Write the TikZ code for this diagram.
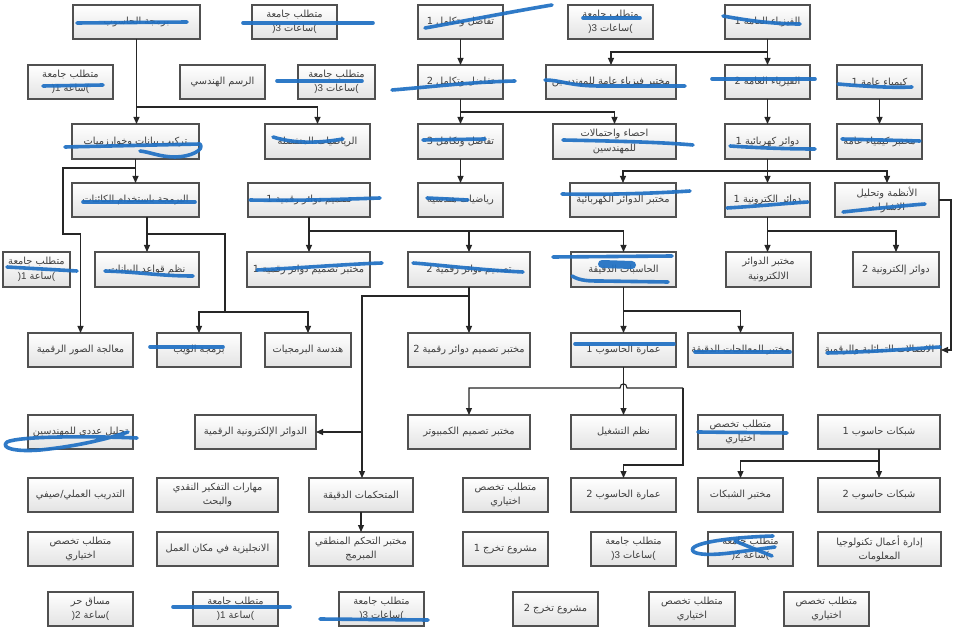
\documentclass[tikz,border=0pt]{standalone}
\usepackage{fontspec}
\setmainfont[Script=Arabic]{DejaVu Sans}
\newfontfamily\latfont[Script=Latin]{Liberation Sans}
\TeXXeTstate=1
\usetikzlibrary{arrows.meta}

\definecolor{boxline}{RGB}{80,80,80}
\definecolor{boxtext}{RGB}{62,62,62}
\definecolor{pen}{RGB}{32,112,195}

% right-to-left run
\newcommand\ar[1]{\beginR #1\endR}
% credit-hours line, e.g. )3 ساعات(
\newcommand\hrsline[2]{\hbox{\latfont )}\hbox{\latfont #1}\hbox{ }\hbox{#2}\hbox{\latfont (}}
% box given by its left, top, right and bottom edges
\newcommand\bx[6]{\node[course, minimum width={#4-#2}, minimum height={#5-#3}] (#1) at ({(#2+#4)/2},{(#3+#5)/2}) {#6};}

\tikzset{
  course/.style={draw=boxline, line width=1.1pt, top color=white, bottom color=black!11,
    inner sep=0pt, outer sep=0pt, align=center, text=boxtext,
    font=\fontsize{9.8}{14.5}\selectfont},
  conn/.style={draw=black!85, line width=1.1pt, -{Triangle[length=7pt,width=6pt]}},
  penstroke/.style={draw=pen, line width=3.6pt, line cap=round, line join=round, opacity=0.93}
}

\begin{document}
\begin{tikzpicture}[x=1pt,y=-1pt]
\useasboundingbox (0,0) rectangle (959,628);
\fill[white] (0,0) rectangle (959,628);

% ---- row 1
\bx{A1}{73}{5}{200}{39}{\ar{برمجة الحاسوب}}
\bx{A2}{252}{5}{337}{39}{\ar{متطلب جامعة}\\\hrsline{3}{ساعات}}
\bx{A3}{418}{5}{503}{39}{\ar{تفاضل وتكامل 1}}
\bx{A4}{568}{5}{653}{39}{\ar{متطلب جامعة}\\\hrsline{3}{ساعات}}
\bx{A5}{725}{5}{810}{39}{\ar{الفيزياء العامة 1}}
% ---- row 2
\bx{B1}{28}{65}{113}{99}{\ar{متطلب جامعة}\\\hrsline{1}{ساعة}}
\bx{B2}{180}{65}{265}{99}{\ar{الرسم الهندسي}}
\bx{B3}{298}{65}{375}{99}{\ar{متطلب جامعة}\\\hrsline{3}{ساعات}}
\bx{B4}{418}{65}{503}{99}{\ar{تفاضل وتكامل 2}}
\bx{B5}{546}{65}{676}{99}{\ar{مختبر فيزياء عامة للمهندسين}}
\bx{B6}{725}{65}{810}{99}{\ar{الفيزياء العامة 2}}
\bx{B7}{837}{65}{922}{99}{\ar{كيمياء عامة 1}}
% ---- row 3
\bx{C1}{72}{124}{199}{159}{\ar{تركيب بيانات وخوارزميات}}
\bx{C2}{265}{124}{370}{159}{\ar{الرياضيات المنفصلة}}
\bx{C3}{418}{124}{503}{159}{\ar{تفاضل وتكامل 3}}
\bx{C4}{553}{124}{676}{159}{\ar{احصاء واحتمالات}\\\ar{للمهندسين}}
\bx{C5}{725}{124}{810}{159}{\ar{دوائر كهربائية 1}}
\bx{C6}{837}{124}{922}{159}{\ar{مختبر كيمياء عامة}}
% ---- row 4
\bx{D1}{72}{183}{199}{217}{\ar{البرمجة باستخدام الكائنات}}
\bx{D2}{248}{183}{370}{217}{\ar{تصميم دوائر رقمية 1}}
\bx{D3}{418}{183}{503}{217}{\ar{رياضيات هندسية}}
\bx{D4}{570}{183}{676}{217}{\ar{مختبر الدوائر الكهربائية}}
\bx{D5}{725}{183}{810}{217}{\ar{دوائر الكترونية 1}}
\bx{D6}{835}{183}{939}{217}{\ar{الأنظمة وتحليل}\\\ar{الاشارات}}
% ---- row 5
\bx{E1}{3}{252}{70}{287}{\ar{متطلب جامعة}\\\hrsline{1}{ساعة}}
\bx{E2}{95}{252}{199}{287}{\ar{نظم قواعد البيانات}}
\bx{E3}{247}{252}{370}{287}{\ar{مختبر تصميم دوائر رقمية 1}}
\bx{E4}{408}{252}{530}{287}{\ar{تصميم دوائر رقمية 2}}
\bx{E5}{571}{252}{676}{287}{\ar{الحاسبات الدقيقة}}
\bx{E6}{726}{252}{811}{287}{\ar{مختبر الدوائر}\\\ar{الالكترونية}}
\bx{E7}{853}{252}{939}{287}{\ar{دوائر إلكترونية 2}}
% ---- row 6
\bx{F1}{28}{333}{133}{367}{\ar{معالجة الصور الرقمية}}
\bx{F2}{157}{333}{241}{367}{\ar{برمجة الويب}}
\bx{F3}{265}{333}{351}{367}{\ar{هندسة البرمجيات}}
\bx{F4}{408}{333}{530}{367}{\ar{مختبر تصميم دوائر رقمية 2}}
\bx{F5}{571}{333}{676}{367}{\ar{عمارة الحاسوب 1}}
\bx{F6}{688}{333}{793}{367}{\ar{مختبر المعالجات الدقيقة}}
\bx{F7}{818}{333}{941}{367}{\ar{الاتصالات التماثلية والرقمية}}
% ---- row 7
\bx{G1}{28}{415}{133}{449}{\ar{تحليل عددي للمهندسين}}
\bx{G2}{195}{415}{316}{449}{\ar{الدوائر الإلكترونية الرقمية}}
\bx{G3}{408}{415}{530}{449}{\ar{مختبر تصميم الكمبيوتر}}
\bx{G4}{571}{415}{676}{449}{\ar{نظم التشغيل}}
\bx{G5}{698}{415}{783}{449}{\ar{متطلب تخصص}\\\ar{اختياري}}
\bx{G6}{818}{415}{940}{449}{\ar{شبكات حاسوب 1}}
% ---- row 8
\bx{H1}{28}{478}{133}{512}{\ar{التدريب العملي/صيفي}}
\bx{H2}{157}{478}{278}{512}{\ar{مهارات التفكير النقدي}\\\ar{والبحث}}
\bx{H3}{309}{478}{413}{512}{\ar{المتحكمات الدقيقة}}
\bx{H4}{463}{478}{548}{512}{\ar{متطلب تخصص}\\\ar{اختياري}}
\bx{H5}{571}{478}{676}{512}{\ar{عمارة الحاسوب 2}}
\bx{H6}{698}{478}{783}{512}{\ar{مختبر الشبكات}}
\bx{H7}{818}{478}{940}{512}{\ar{شبكات حاسوب 2}}
% ---- row 9
\bx{I1}{28}{532}{133}{566}{\ar{متطلب تخصص}\\\ar{اختياري}}
\bx{I2}{157}{532}{278}{566}{\ar{الانجليزية في مكان العمل}}
\bx{I3}{309}{532}{413}{566}{\ar{مختبر التحكم المنطقي}\\\ar{المبرمج}}
\bx{I4}{463}{532}{548}{566}{\ar{مشروع تخرج 1}}
\bx{I5}{591}{532}{676}{566}{\ar{متطلب جامعة}\\\hrsline{3}{ساعات}}
\bx{I6}{708}{532}{793}{566}{\ar{متطلب جامعة}\\\hrsline{2}{ساعة}}
\bx{I7}{818}{532}{941}{566}{\ar{إدارة أعمال تكنولوجيا}\\\ar{المعلومات}}
% ---- row 10
\bx{J1}{48}{592}{133}{626}{\ar{مساق حر}\\\hrsline{2}{ساعة}}
\bx{J2}{193}{592}{278}{626}{\ar{متطلب جامعة}\\\hrsline{1}{ساعة}}
\bx{J3}{339}{592}{424}{626}{\ar{متطلب جامعة}\\\hrsline{3}{ساعات}}
\bx{J4}{513}{592}{598}{626}{\ar{مشروع تخرج 2}}
\bx{J5}{649}{592}{735}{626}{\ar{متطلب تخصص}\\\ar{اختياري}}
\bx{J6}{784}{592}{869}{626}{\ar{متطلب تخصص}\\\ar{اختياري}}

% ---- prerequisite arrows
\draw[conn] (A1.south) -- (A1.south |- C1.north);
\draw[conn] (A1.south) -- (A1.south |- 0,107) -| (C2.north);
\draw[conn] (A3) -- (B4);
\draw[conn] (B4) -- (C3);
\draw[conn] (B4.south) -- (B4.south |- 0,112) -| (C4.north);
\draw[conn] (A5) -- (B6);
\draw[conn] (A5.south) -- (A5.south |- 0,52) -| (B5.north);
\draw[conn] (B6) -- (C5);
\draw[conn] (B7) -- (C6);
\draw[conn] (C3) -- (D3);
\draw[conn] (C5) -- (D5);
\draw[conn] (C5.south) -- (C5.south |- 0,171) -| (D6.north);
\draw[conn] (C5.south) -- (C5.south |- 0,171) -| (D4.north);
\draw[conn] (C1.south) -- (C1.south |- D1.north);
\draw[conn] (C1.south) -- (C1.south |- 0,168) -- (63,168) -- (63,234) -| (F1.north);
\draw[conn] (E2.north |- D1.south) -- (E2.north);
\coordinate (webturn) at (225,312);
\draw[conn] (E2.north |- 0,234) -- (225,234) -- (webturn) -| (F2.north);
\draw[conn] (webturn) -| (F3.north);
\draw[conn] (D2.south) -- (D2.south |- E3.north);
\draw[conn] (D2.south) -- (D2.south |- 0,231) -| (E4.north);
\draw[conn] (D2.south |- 0,231) -| (E5.north);
\draw[conn] (D5.south) -- (D5.south |- E6.north);
\draw[conn] (D5.south) -- (D5.south |- 0,231) -| (E7.north);
\draw[conn] (D6.east) -- (951,200) -- (951,350) -- (F7.east);
\draw[conn] (E4) -- (F4);
\coordinate (ctrlturn) at (362,296);
\draw[conn] (E4.south) -- (E4.south |- ctrlturn) -- (ctrlturn) -- (362,432) -- (G2.east);
\draw[conn] (ctrlturn) -- (ctrlturn |- H3.north);
\draw[conn] (E5) -- (F5);
\draw[conn] (E5.south) -- (E5.south |- 0,311) -| (F6.north);
\draw[conn] (F5) -- (G4);
\coordinate (archjoint) at (683,388);
\draw[conn] (archjoint) -- (627,388) .. controls (627,382.5) and (620,382.5) .. (620,388)
   -- (G3.north |- archjoint) -- (G3.north);
\draw[conn] (archjoint) -- (683,465) -| (H5.north);
\draw[conn] (G6) -- (H7);
\draw[conn] (G6.south) -- (G6.south |- 0,461) -| (H6.north);
\draw[conn] (H3) -- (I3);

% ---- pen strike-throughs
\begin{scope}[every path/.style={penstroke}]
\draw (77,23) -- (187,22);
\draw (243,23) -- (373,23);
\draw (425,28) .. controls (470,20) and (510,12) .. (552,5);
\draw (583,18) -- (640,18);
\draw (723,16) .. controls (750,21) and (775,24) .. (800,24);
\draw (43,86) -- (103,85);
\draw (277,81) -- (362,81);
\draw (392,90) .. controls (430,87) and (470,82) .. (515,81);
\draw (545,80) .. controls (560,80) and (570,86) .. (600,86) -- (685,86);
\draw (712,79) -- (815,79);
\draw (838,84) .. controls (860,86) and (890,88) .. (912,87);
\draw (65,147) -- (200,144) .. controls (205,150) and (190,157) .. (175,157) .. controls (160,157) and (150,152) .. (140,151);
\draw (273,137) .. controls (295,144) and (320,143) .. (343,139);
\draw (423,140) -- (485,139);
\draw (563,140) .. controls (610,141) and (660,142) .. (693,145);
\draw (730,146) .. controls (760,148) and (790,149) .. (815,149);
\draw (842,139) -- (920,141);
\draw (83,202) -- (195,202);
\draw (250,200) .. controls (300,201) and (350,199) .. (380,198);
\draw (427,198) -- (468,200);
\draw (562,194) .. controls (610,195) and (660,193) .. (690,191);
\draw (727,208) .. controls (760,206) and (790,203) .. (808,202);
\draw (843,212) .. controls (870,209) and (900,206) .. (925,204);
\draw (7,267) -- (77,271);
\draw (105,271) .. controls (140,272) and (160,276) .. (193,276);
\draw (257,270) .. controls (300,268) and (350,264) .. (382,263);
\draw (413,263) .. controls (440,265) and (480,270) .. (523,272);
\draw (553,257) -- (672,256);
\draw (572,276) .. controls (580,281) and (590,281) .. (600,281) -- (668,282);
\draw[line width=8pt] (602,264) -- (632,265);
\draw (150,347) -- (223,347);
\draw (575,344) -- (674,344);
\draw (695,352) -- (790,352);
\draw (827,353) .. controls (870,352) and (910,349) .. (940,347);
\draw (137,438) .. controls (90,436) and (20,436) .. (7,442) .. controls (0,448) and (15,452) .. (40,450) .. controls (80,446) and (110,438) .. (128,432);
\draw (698,432) -- (787,433);
\draw (773,536) .. controls (740,537) and (700,541) .. (693,548) .. controls (689,554) and (705,556) .. (730,553) -- (775,547);
\draw (735,541) -- (772,556);
\draw (173,607) -- (290,607);
\draw (320,619) -- (428,620);
\end{scope}
\end{tikzpicture}
\end{document}
